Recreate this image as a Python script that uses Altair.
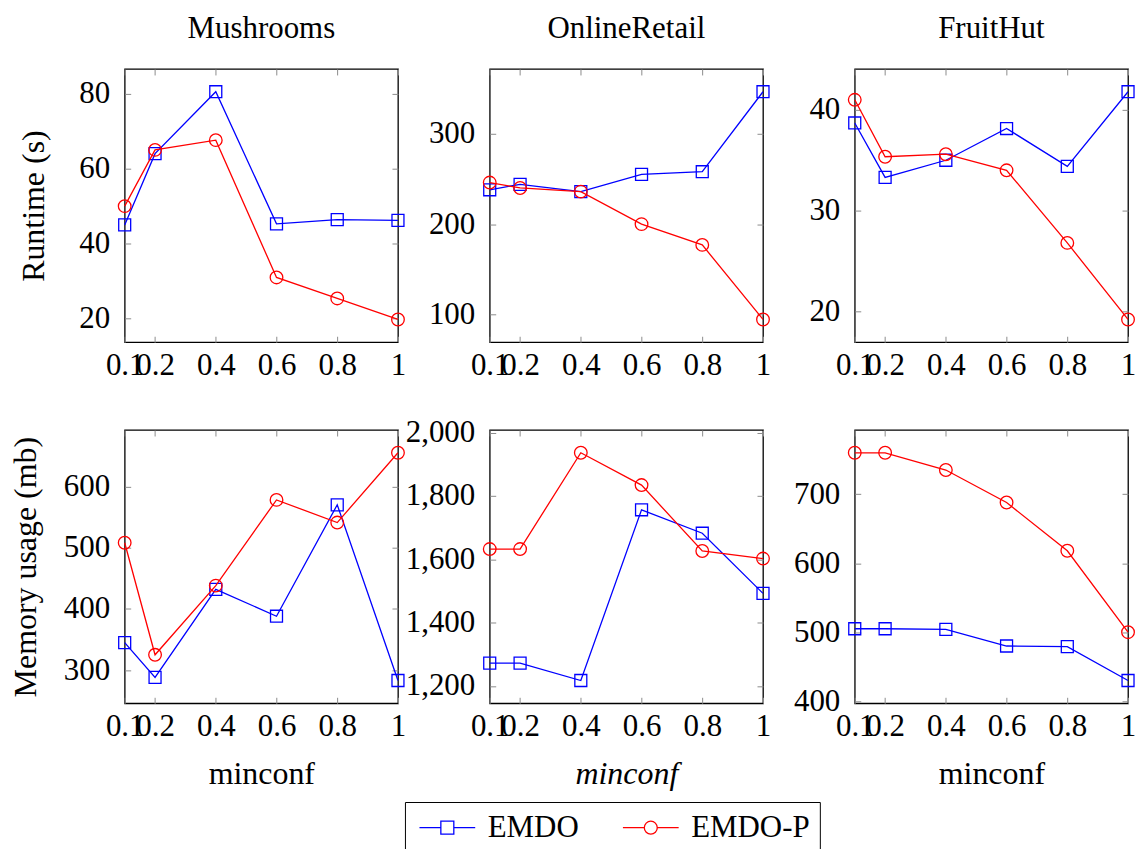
import altair as alt
import pandas as pd

FONT = "Liberation Serif"

# ---- data ----
minconf = [0.1, 0.2, 0.4, 0.6, 0.8, 1.0]
x_ticks = [0.1, 0.2, 0.4, 0.6, 0.8, 1.0]
datasets = ["Mushrooms", "OnlineRetail", "FruitHut"]
series_names = ["EMDO", "EMDO-P"]
series_colors = ["#0000ff", "#ff0000"]

rt_mushrooms_emdo = [45.0, 64.0, 80.5, 45.3, 46.4, 46.2]
rt_mushrooms_emdop = [50.0, 65.0, 67.6, 31.0, 25.4, 19.8]
rt_online_emdo = [238.0, 244.0, 236.0, 255.0, 258.0, 346.5]
rt_online_emdop = [246.0, 240.0, 236.0, 200.0, 177.0, 94.5]
rt_fruit_emdo = [38.7, 33.3, 35.0, 38.15, 34.4, 41.8]
rt_fruit_emdop = [41.0, 35.35, 35.6, 34.0, 26.8, 19.2]

mem_mushrooms_emdo = [345, 288, 432, 388, 570, 283]
mem_mushrooms_emdop = [508, 325, 438, 578, 541, 655]
mem_online_emdo = [1272, 1272, 1217, 1756, 1682, 1492]
mem_online_emdop = [1632, 1632, 1936, 1834, 1626, 1602]
mem_fruit_emdo = [505, 505, 504, 480, 479, 430]
mem_fruit_emdop = [760, 760, 735, 688, 618, 500]

rt_yticks = [[20, 40, 60, 80], [100, 200, 300], [20, 30, 40]]
mem_yticks = [[300, 400, 500, 600], [1200, 1400, 1600, 1800, 2000], [400, 500, 600, 700]]

# legend symbols: short line with the marker in the middle
sym_square = "M-4.3,0H-1M1,0H4.3M-1,-1H1V1H-1Z"
sym_circle = "M-4.3,0H-1M1,0H4.3M1,0A1,1,0,1,1,-1,0A1,1,0,1,1,1,0Z"

W = 274
H = 274


def legend_layer():
    leg_props = dict(
        orient="none", legendX=281, legendY=735, direction="horizontal",
        title=None, strokeColor="black", padding=10,
        symbolSize=169, symbolStrokeWidth=1.3, symbolOffset=17,
        labelOffset=25, labelFont=FONT, labelFontSize=31, labelColor="black",
        columnPadding=39,
    )
    df = pd.DataFrame({"series": series_names})
    return alt.Chart(df).transform_filter("false").mark_point(
        filled=False, strokeWidth=1.3, opacity=1
    ).encode(
        color=alt.Color("series:N", scale=alt.Scale(domain=series_names, range=series_colors),
                        legend=alt.Legend(**leg_props)),
        shape=alt.Shape("series:N", scale=alt.Scale(domain=series_names, range=[sym_square, sym_circle]),
                        legend=alt.Legend(**leg_props)),
    )


def panel(emdo, emdop, yticks, title=None, ytitle=None, ytitle_pad=24,
          xtitle=None, xitalic=False, with_legend=False):
    vals = list(emdo) + list(emdop)
    lo, hi = min(vals), max(vals)
    pad = 0.1 * (hi - lo)
    xs = alt.Scale(domain=[0.1, 1.0], nice=False, zero=False)
    ys = alt.Scale(domain=[lo - pad, hi + pad], nice=False, zero=False)

    common = dict(offset=-6, tickSize=6, domain=False, grid=False,
                  tickColor="#8c8c8c", tickWidth=1)
    ax_b = dict(orient="bottom", values=x_ticks, format="~g", labelOverlap=False,
                labelFlush=False, labelPadding=8, title=xtitle, titlePadding=17, **common)
    if xitalic:
        ax_b["titleFontStyle"] = "italic"
    ax_l = dict(orient="left", values=yticks, format=",d", labelOverlap=False,
                labelFlush=False, labelPadding=15, title=ytitle, titlePadding=ytitle_pad, **common)
    ax_t = dict(orient="top", values=x_ticks, labels=False, title=None, **common)
    ax_r = dict(orient="right", values=yticks, labels=False, title=None, **common)

    df1 = pd.DataFrame({"minconf": minconf, "value": emdo})
    df2 = pd.DataFrame({"minconf": minconf, "value": emdop})

    l1 = alt.Chart(df1).mark_line(color=series_colors[0], strokeWidth=1.3).encode(
        x=alt.X("minconf:Q", scale=xs, axis=alt.Axis(**ax_b)),
        y=alt.Y("value:Q", scale=ys, axis=alt.Axis(**ax_l)),
    )
    l2 = alt.Chart(df1).mark_point(shape="square", size=144, filled=False,
                                   color=series_colors[0], strokeWidth=1.3, opacity=1).encode(
        x=alt.X("minconf:Q", scale=xs, axis=alt.Axis(**ax_t)),
        y=alt.Y("value:Q", scale=ys, axis=alt.Axis(**ax_r)),
    )
    l3 = alt.Chart(df2).mark_line(color=series_colors[1], strokeWidth=1.3).encode(
        x=alt.X("minconf:Q", scale=xs, axis=None),
        y=alt.Y("value:Q", scale=ys, axis=None),
    )
    l4 = alt.Chart(df2).mark_point(shape="circle", size=160, filled=False,
                                   color=series_colors[1], strokeWidth=1.3, opacity=1).encode(
        x=alt.X("minconf:Q", scale=xs, axis=None),
        y=alt.Y("value:Q", scale=ys, axis=None),
    )
    layers = [l1, l2, l3, l4]
    if with_legend:
        layers.append(legend_layer())
    ch = alt.layer(*layers).properties(width=W, height=H)
    if title:
        ch = ch.properties(title=alt.Title(title, font=FONT, fontSize=31, fontWeight="normal",
                                           color="black", frame="group", anchor="middle",
                                           baseline="top", offset=24))
    return ch


panels = [
    panel(rt_mushrooms_emdo, rt_mushrooms_emdop, rt_yticks[0], title=datasets[0],
          ytitle="Runtime (s)", ytitle_pad=28),
    panel(rt_online_emdo, rt_online_emdop, rt_yticks[1], title=datasets[1]),
    panel(rt_fruit_emdo, rt_fruit_emdop, rt_yticks[2], title=datasets[2]),
    panel(mem_mushrooms_emdo, mem_mushrooms_emdop, mem_yticks[0],
          ytitle="Memory usage (mb)", ytitle_pad=21, xtitle="minconf"),
    panel(mem_online_emdo, mem_online_emdop, mem_yticks[1], xtitle="minconf",
          xitalic=True, with_legend=True),
    panel(mem_fruit_emdo, mem_fruit_emdop, mem_yticks[2], xtitle="minconf"),
]

chart = alt.concat(*panels, columns=3, spacing={"row": 88, "column": 92},
                   bounds="flush").properties(
    padding={"left": 0, "top": 2, "right": 0, "bottom": 0}
).configure_view(
    stroke="black", strokeWidth=1.3
).configure_axis(
    labelFont=FONT, labelFontSize=31, labelColor="black",
    titleFont=FONT, titleFontSize=32, titleFontWeight="normal", titleColor="black",
)

chart.save("out.html", embed_options={"renderer": "svg", "actions": False})
